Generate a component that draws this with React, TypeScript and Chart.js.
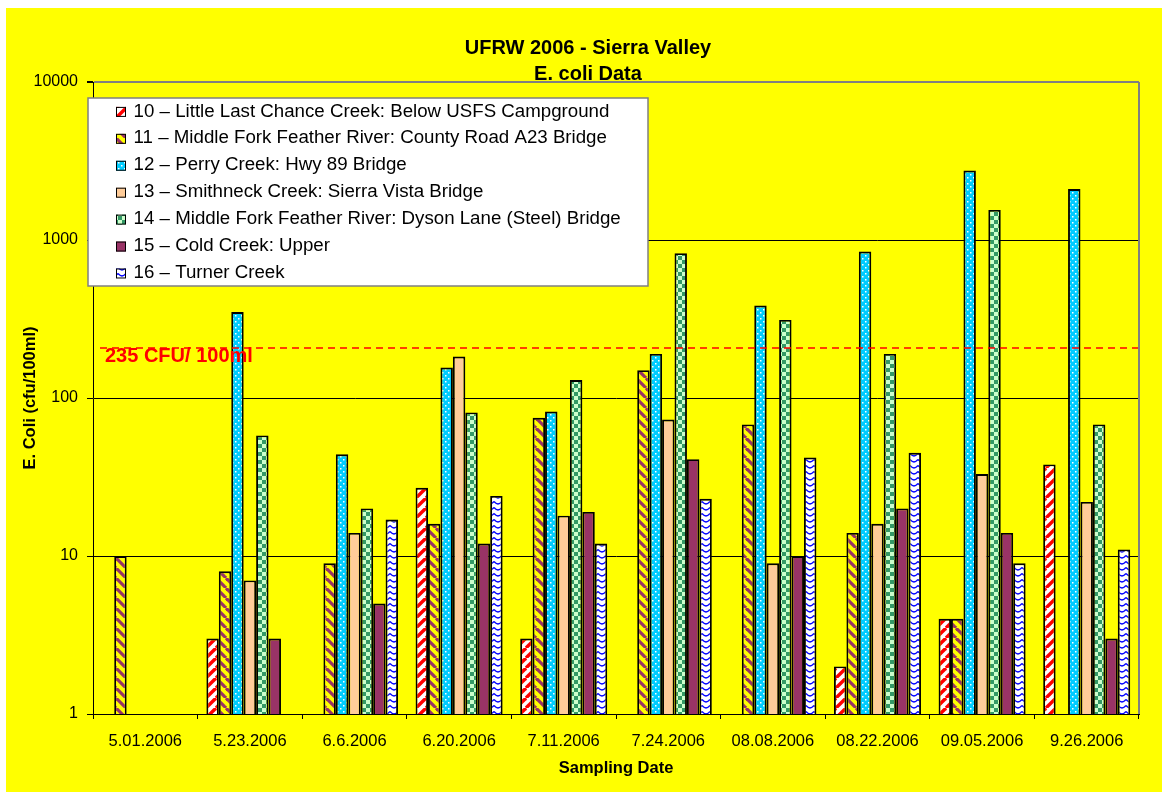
import React, { useEffect, useRef } from 'react';
import { Chart, registerables } from 'chart.js';

Chart.register(...registerables);

const FONT = "'Liberation Sans', Arial, Helvetica, sans-serif";

const titleLines = ['UFRW 2006 - Sierra Valley', 'E. coli Data'];
const xAxisTitle = 'Sampling Date';
const yAxisTitle = 'E. Coli (cfu/100ml)';

const categories = [
  '5.01.2006', '5.23.2006', '6.6.2006', '6.20.2006', '7.11.2006',
  '7.24.2006', '08.08.2006', '08.22.2006', '09.05.2006', '9.26.2006',
];

const seriesLabels = [
  '10 – Little Last Chance Creek: Below USFS Campground',
  '11 – Middle Fork Feather River: County Road A23 Bridge',
  '12 – Perry Creek: Hwy 89 Bridge',
  '13 – Smithneck Creek: Sierra Vista Bridge',
  '14 – Middle Fork Feather River: Dyson Lane (Steel) Bridge',
  '15 – Cold Creek: Upper',
  '16 – Turner Creek',
];

const site10 = [null, 3, null, 27, 3, null, null, 2, 4, 38];
const site11 = [10, 8, 9, 16, 75, 150, 68, 14, 4, null];
const site12 = [null, 350, 44, 156, 82, 190, 385, 845, 2750, 2100];
const site13 = [null, 7, 14, 183, 18, 73, 9, 16, 33, 22];
const site14 = [null, 58, 20, 81, 130, 825, 312, 190, 1550, 68];
const site15 = [null, 3, 5, 12, 19, 41, 10, 20, 14, 3];
const site16 = [null, null, 17, 24, 12, 23, 42, 45, 9, 11];

const yTickValues = [1, 10, 100, 1000, 10000];

// reference line as drawn in the picture, and its label
const thresholdLineValue = 207;
const thresholdLabel = '235 CFU/ 100ml';

function tile(w: number, h: number, draw: (g: CanvasRenderingContext2D) => void): CanvasPattern {
  const c = document.createElement('canvas');
  c.width = w;
  c.height = h;
  const g = c.getContext('2d') as CanvasRenderingContext2D;
  draw(g);
  return g.createPattern(c, 'repeat') as CanvasPattern;
}

function makePatterns(): (CanvasPattern | string)[] {
  const p10 = tile(10, 10, (g) => {
    g.fillStyle = '#FFFFFF';
    g.fillRect(0, 0, 10, 10);
    g.strokeStyle = '#FF0000';
    g.lineWidth = 3.4;
    for (const o of [-10, 0, 10]) {
      g.beginPath();
      g.moveTo(o, 10);
      g.lineTo(o + 10, 0);
      g.stroke();
    }
  });
  const p11 = tile(10, 10, (g) => {
    g.fillStyle = '#FFFF00';
    g.fillRect(0, 0, 10, 10);
    g.strokeStyle = '#993366';
    g.lineWidth = 3.2;
    for (const o of [-10, 0, 10]) {
      g.beginPath();
      g.moveTo(o, 0);
      g.lineTo(o + 10, 10);
      g.stroke();
    }
  });
  const p12 = tile(6, 6, (g) => {
    g.fillStyle = '#00CCFF';
    g.fillRect(0, 0, 6, 6);
    g.fillStyle = '#FFFFFF';
    g.fillRect(1, 1, 1.5, 1.5);
    g.fillRect(4, 4, 1.5, 1.5);
  });
  const p14 = tile(8, 8, (g) => {
    g.fillStyle = '#CCFFCC';
    g.fillRect(0, 0, 8, 8);
    g.fillStyle = '#339966';
    g.fillRect(0, 0, 4, 4);
    g.fillRect(4, 4, 4, 4);
  });
  const p16 = tile(8, 6, (g) => {
    g.fillStyle = '#FFFFFF';
    g.fillRect(0, 0, 8, 6);
    g.strokeStyle = '#0000FF';
    g.lineWidth = 1.4;
    g.beginPath();
    g.moveTo(0, 1.5);
    g.quadraticCurveTo(4, 6.5, 8, 1.5);
    g.stroke();
  });
  return [p10, p11, p12, '#FFCC99', p14, '#993366', p16];
}

export default function App() {
  const canvasRef = useRef<HTMLCanvasElement | null>(null);

  useEffect(() => {
    const canvas = canvasRef.current;
    if (!canvas) return;
    const patterns = makePatterns();
    const seriesData = [site10, site11, site12, site13, site14, site15, site16];

    const overlayPlugin = {
      id: 'overlay',
      afterDatasetsDraw(chart: any) {
        const { ctx, chartArea } = chart;
        const y = chart.scales.y.getPixelForValue(thresholdLineValue);
        ctx.save();
        // threshold dashed line
        ctx.strokeStyle = '#FF0000';
        ctx.lineWidth = 1.5;
        ctx.setLineDash([7, 5]);
        ctx.beginPath();
        ctx.moveTo(chartArea.left + 7, y);
        ctx.lineTo(chartArea.right, y);
        ctx.stroke();
        ctx.setLineDash([]);
        // label
        ctx.fillStyle = '#FF0000';
        ctx.font = `bold 20px ${FONT}`;
        ctx.textBaseline = 'alphabetic';
        ctx.textAlign = 'left';
        ctx.fillText(thresholdLabel, chartArea.left + 12, y + 13.5);
        // right plot border
        ctx.strokeStyle = '#808080';
        ctx.lineWidth = 2;
        ctx.beginPath();
        ctx.moveTo(chartArea.right, chartArea.top);
        ctx.lineTo(chartArea.right, chartArea.bottom);
        ctx.stroke();
        ctx.restore();
      },
      afterDraw(chart: any) {
        const { ctx, chartArea } = chart;
        ctx.save();
        const bx = chartArea.left - 5;
        const by = chartArea.top + 16;
        const bw = 560;
        const bh = 188;
        ctx.fillStyle = '#FFFFFF';
        ctx.fillRect(bx, by, bw, bh);
        ctx.strokeStyle = '#808080';
        ctx.lineWidth = 1.5;
        ctx.strokeRect(bx, by, bw, bh);
        chart.data.datasets.forEach((ds: any, i: number) => {
          const cy = by + 13.4 + i * 26.93;
          const sx = bx + 28;
          ctx.fillStyle = ds.backgroundColor;
          ctx.fillRect(sx, cy - 4.5, 10, 10);
          ctx.strokeStyle = '#000000';
          ctx.lineWidth = 1;
          ctx.strokeRect(sx + 0.5, cy - 4, 9, 9);
          ctx.fillStyle = '#000000';
          ctx.font = `18.7px ${FONT}`;
          ctx.textBaseline = 'middle';
          ctx.textAlign = 'left';
          ctx.fillText(ds.label, bx + 45.6, cy);
        });
        ctx.restore();
      },
    };

    const chart = new Chart(canvas, {
      type: 'bar',
      data: {
        labels: categories,
        datasets: seriesData.map((d, i) => ({
          label: seriesLabels[i],
          data: d,
          backgroundColor: patterns[i] as any,
          borderColor: '#000000',
          borderWidth: 1.9,
          categoryPercentage: 0.832,
          barPercentage: 1.0,
        })),
      },
      options: {
        animation: false,
        responsive: false,
        devicePixelRatio: 1,
        layout: { padding: { left: 8, right: 0, top: 0, bottom: 0 } },
        plugins: {
          legend: { display: false },
          tooltip: { enabled: false },
          title: {
            display: true,
            text: titleLines,
            color: '#000000',
            font: { family: FONT, size: 20, weight: 'bold', lineHeight: 1.3 },
            padding: { top: 27, bottom: -5 },
          },
        },
        scales: {
          x: {
            type: 'category',
            offset: true,
            grid: {
              display: true,
              drawOnChartArea: false,
              drawTicks: true,
              tickLength: 5,
              color: '#000000',
              tickColor: '#000000',
              offset: true,
            },
            border: { display: true, color: '#000000', width: 1 },
            ticks: {
              color: '#000000',
              font: { family: FONT, size: 16.5 },
              padding: 13,
              maxRotation: 0,
              autoSkip: false,
            },
            title: {
              display: true,
              text: xAxisTitle,
              color: '#000000',
              font: { family: FONT, size: 16.5, weight: 'bold' },
              padding: { top: 0, bottom: 14 },
            },
            afterFit: (s: any) => {
              s.height = 78;
            },
          },
          y: {
            type: 'logarithmic',
            min: 1,
            max: 10000,
            afterBuildTicks: (s: any) => {
              s.ticks = yTickValues.map((v) => ({ value: v }));
            },
            ticks: {
              color: '#000000',
              font: { family: FONT, size: 16 },
              padding: 9,
              callback: (v: any) => String(v),
            },
            grid: {
              color: (c: any) => (c.tick && c.tick.value === 10000 ? '#808080' : '#000000'),
              lineWidth: (c: any) => (c.tick && c.tick.value === 10000 ? 2 : 1),
              tickColor: '#000000',
              tickLength: 6,
            },
            border: { display: true, color: '#000000', width: 1 },
            title: {
              display: true,
              text: yAxisTitle,
              color: '#000000',
              font: { family: FONT, size: 16.5, weight: 'bold' },
              padding: { top: 7, bottom: 0 },
            },
            afterFit: (s: any) => {
              s.width = 79;
            },
          },
          // empty right-hand margin
          rightMargin: {
            type: 'linear',
            position: 'right',
            display: true,
            min: 0,
            max: 1,
            grid: { drawOnChartArea: false, drawTicks: false, display: false },
            border: { display: false },
            ticks: { display: false },
            afterFit: (s: any) => {
              s.width = 23;
            },
          },
        },
      } as any,
      plugins: [overlayPlugin],
    });

    return () => {
      chart.destroy();
    };
  }, []);

  return (
    <div style={{ position: 'fixed', left: 6, top: 8, width: 1156, height: 784 }}>
      <canvas
        ref={canvasRef}
        width={1156}
        height={784}
        style={{ display: 'block', width: 1156, height: 784, background: '#FFFF00' }}
      />
    </div>
  );
}
